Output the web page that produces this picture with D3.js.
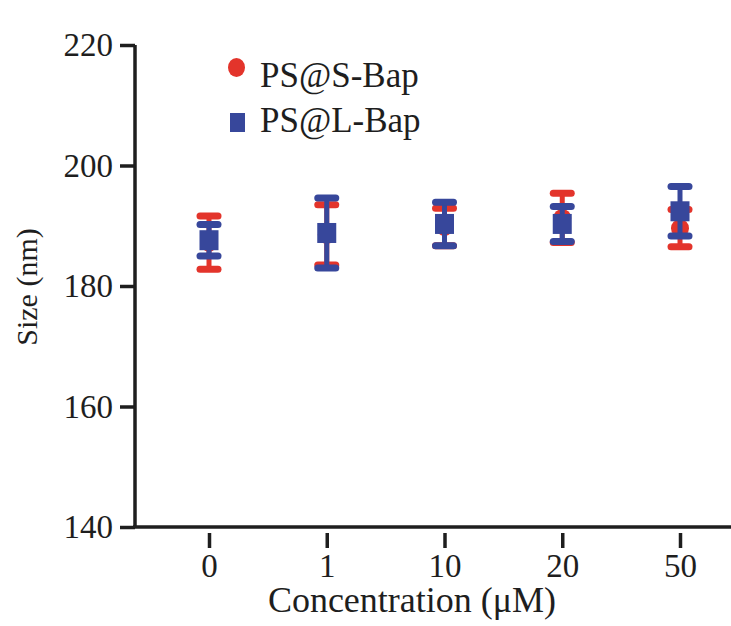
<!DOCTYPE html>
<html>
<head>
<meta charset="utf-8">
<script src="https://cdn.jsdelivr.net/npm/d3@7"></script>
<style>
  body { margin: 0; background: #fff; }
  svg text { font-family: "Liberation Serif", "Times New Roman", "DejaVu Serif", serif; }
</style>
</head>
<body>
<div id="grafico"></div>
<script>
// Data
const concentrations = ["0", "1", "10", "20", "50"];
const sMean = [187.2, 188.5, 189.8, 191.3, 189.6];   // PS@S-Bap
const sErr  = [4.4, 5.0, 3.1, 4.1, 3.1];
const lMean = [187.6, 188.8, 190.3, 190.3, 192.4];   // PS@L-Bap
const lErr  = [2.6, 5.8, 3.6, 2.9, 4.1];
const yTicks = [140, 160, 180, 200, 220];

const width = 731;
const height = 626;
const axisX = 135;   // y axis position
const axisY = 527;   // x axis position
const red = "#e3342b";
const blue = "#37479b";
const ink = "#1e1e1e";

const svg = d3.select("#grafico")
    .append("svg")
    .attr("width", width)
    .attr("height", height);

// Scales
const xScale = d3.scalePoint()
    .domain(concentrations)
    .range([209, 680]);

const yScale = d3.scaleLinear()
    .domain([140, 220])
    .range([axisY, 45]);

// Y axis
const yAxis = d3.axisLeft(yScale)
    .tickValues(yTicks)
    .tickSize(15)
    .tickPadding(7)
    .tickFormat(d3.format("d"));

const gy = svg.append("g")
    .attr("transform", `translate(${axisX},0)`)
    .call(yAxis);
gy.attr("font-family", null);
gy.select(".domain").attr("stroke", ink).attr("stroke-width", 3.5)
    .attr("d", `M0,${yScale(220)}H0V${axisY}`);
gy.selectAll(".tick line").attr("stroke", ink).attr("stroke-width", 3.5);
gy.selectAll(".tick text").attr("font-size", 33).attr("fill", ink).attr("dy", "0.33em");

// X axis: long baseline + offset ticks
svg.append("line")
    .attr("x1", axisX - 2).attr("x2", width)
    .attr("y1", axisY).attr("y2", axisY)
    .attr("stroke", ink).attr("stroke-width", 3.5);

const xAxis = d3.axisBottom(xScale)
    .tickSize(15)
    .tickPadding(6);

const gx = svg.append("g")
    .attr("transform", `translate(0,${axisY + 6})`)
    .call(xAxis);
gx.attr("font-family", null);
gx.select(".domain").remove();
gx.selectAll(".tick line").attr("stroke", ink).attr("stroke-width", 3.5);
gx.selectAll(".tick text").attr("font-size", 33).attr("fill", ink);

// Axis titles
svg.append("text")
    .attr("x", 412).attr("y", 612)
    .attr("text-anchor", "middle")
    .attr("font-size", 36).attr("fill", ink)
    .text("Concentration (μM)");

svg.append("text")
    .attr("transform", "translate(37,287) rotate(-90)")
    .attr("text-anchor", "middle")
    .attr("font-size", 30).attr("fill", ink)
    .text("Size (nm)");

// Error bars helper
function errorBars(means, errs, color) {
    const g = svg.append("g");
    const rows = concentrations.map((c, i) => ({ c, m: means[i], e: errs[i] }));
    g.selectAll(".stem").data(rows).enter().append("line")
        .attr("x1", d => xScale(d.c)).attr("x2", d => xScale(d.c))
        .attr("y1", d => yScale(d.m + d.e)).attr("y2", d => yScale(d.m - d.e))
        .attr("stroke", color).attr("stroke-width", 5);
    [1, -1].forEach(s => {
        g.selectAll(".cap" + s).data(rows).enter().append("line")
            .attr("x1", d => xScale(d.c) - 9).attr("x2", d => xScale(d.c) + 9)
            .attr("y1", d => yScale(d.m + s * d.e)).attr("y2", d => yScale(d.m + s * d.e))
            .attr("stroke", color).attr("stroke-width", 7)
            .attr("stroke-linecap", "round");
    });
    return g;
}

// PS@S-Bap (red circles)
const gs = errorBars(sMean, sErr, red);
gs.selectAll("circle").data(sMean).enter().append("circle")
    .attr("cx", (d, i) => xScale(concentrations[i]))
    .attr("cy", d => yScale(d))
    .attr("r", 9)
    .attr("fill", red);

// PS@L-Bap (blue squares)
const gl = errorBars(lMean, lErr, blue);
gl.selectAll("rect").data(lMean).enter().append("rect")
    .attr("x", (d, i) => xScale(concentrations[i]) - 9.5)
    .attr("y", d => yScale(d) - 10)
    .attr("width", 19).attr("height", 20)
    .attr("fill", blue);

// Legend
const legend = svg.append("g").attr("id", "legend");
legend.append("ellipse")
    .attr("cx", 236.5).attr("cy", 67.5)
    .attr("rx", 8.5).attr("ry", 9.5)
    .attr("fill", red);
legend.append("rect")
    .attr("x", 230).attr("y", 113)
    .attr("width", 15).attr("height", 19)
    .attr("fill", blue);
legend.append("text")
    .attr("x", 260).attr("y", 87)
    .attr("font-size", 35).attr("fill", ink)
    .text("PS@S-Bap");
legend.append("text")
    .attr("x", 260).attr("y", 132)
    .attr("font-size", 35).attr("fill", ink)
    .text("PS@L-Bap");
</script>
</body>
</html>
